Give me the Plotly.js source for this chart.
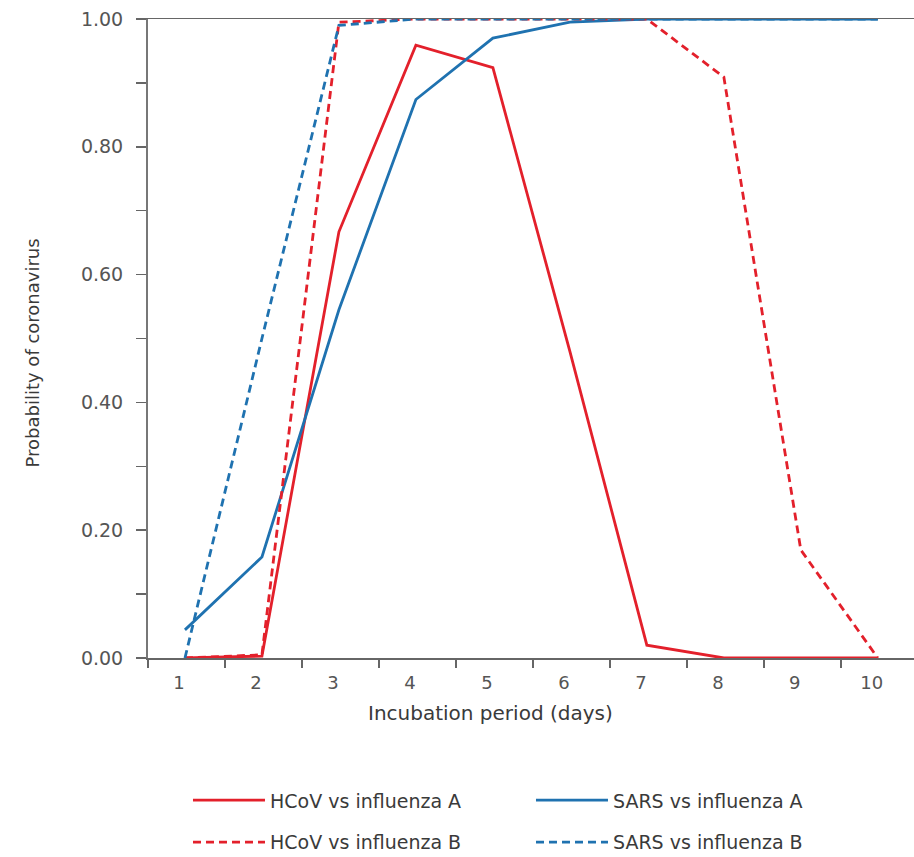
<!DOCTYPE html>
<html>
<head>
<meta charset="utf-8">
<script src="https://cdn.plot.ly/plotly-3.0.1.min.js"></script>
<style>html,body{margin:0;padding:0;background:#fff;}#chart{width:914px;height:857px;}</style>
</head>
<body>
<div id="chart"></div>
<script>
const days = [1, 2, 3, 4, 5, 6, 7, 8, 9, 10];
const dayLabels = ["1", "2", "3", "4", "5", "6", "7", "8", "9", "10"];
const hcovA = [0, 0.003, 0.667, 0.959, 0.924, 0.48, 0.02, 0, 0, 0];
const hcovB = [0, 0.005, 0.995, 1, 1, 1, 1, 0.909, 0.169, 0];
const sarsA = [0.044, 0.158, 0.545, 0.874, 0.970, 0.995, 1, 1, 1, 1];
const sarsB = [0, 0.5, 0.99, 1, 1, 1, 1, 1, 1, 1];
const yTicks = [0, 0.2, 0.4, 0.6, 0.8, 1.0];
const yTickLabels = ["0.00", "0.20", "0.40", "0.60", "0.80", "1.00"];

const RED = "#e3202b";
const BLUE = "#1f72b0";
const FONT = "DejaVu Sans";
const GRAY = "#555";
const TXT = "#3a3a3a";

const traces = [
  {x: days, y: hcovA, name: "HCoV vs influenza A", mode: "lines", line: {color: RED, width: 2.8}, legend: "legend"},
  {x: days, y: sarsA, name: "SARS vs influenza A", mode: "lines", line: {color: BLUE, width: 2.8}, legend: "legend"},
  {x: days, y: hcovB, name: "HCoV vs influenza B", mode: "lines", line: {color: RED, width: 2.8, dash: "8px,5px"}, legend: "legend2"},
  {x: days, y: sarsB, name: "SARS vs influenza B", mode: "lines", line: {color: BLUE, width: 2.8, dash: "8px,5px"}, legend: "legend2"}
];

const legendBase = {
  orientation: "h", xanchor: "left", yanchor: "top",
  entrywidth: 256, entrywidthmode: "pixels", itemwidth: 72,
  font: {family: FONT, size: 19, color: TXT}, bgcolor: "rgba(0,0,0,0)"
};

const layout = {
  width: 914, height: 857,
  margin: {l: 148, r: 0, t: 19, b: 199, autoexpand: false},
  paper_bgcolor: "#fff", plot_bgcolor: "#fff",
  font: {family: FONT, color: GRAY, size: 16},
  showlegend: true,
  legend: Object.assign({}, legendBase, {x: 0.0522, y: -0.193}),
  legend2: Object.assign({}, legendBase, {x: 0.0522, y: -0.2585}),
  xaxis: {
    range: [0.52, 10.47], showgrid: false, zeroline: false,
    showline: true, linecolor: "#666", linewidth: 1.5, mirror: true,
    tickmode: "array", tickvals: days, ticktext: dayLabels, ticks: "",
    ticklabelshift: -6, ticklabelstandoff: 8, tickfont: {family: FONT, size: 18, color: GRAY},
    minor: {tickmode: "linear", tick0: 0.52, dtick: 1, ticks: "outside", ticklen: 8, tickwidth: 1.5, tickcolor: "#666", showgrid: false}
  },
  yaxis: {
    range: [0, 1], showgrid: false, zeroline: false,
    showline: true, linecolor: "#777", linewidth: 2,
    tickmode: "array", tickvals: yTicks, ticktext: yTickLabels,
    ticks: "outside", ticklen: 10, tickwidth: 1.5, tickcolor: "#666",
    ticklabelstandoff: 9,
    tickfont: {family: FONT, size: 19, color: GRAY},
    minor: {tickmode: "linear", tick0: 0, dtick: 0.1, ticks: "outside", ticklen: 10, tickwidth: 1.5, tickcolor: "#666", showgrid: false}
  },
  annotations: [
    {text: "Probability of coronavirus", xref: "paper", yref: "paper", x: 0, y: 0.5, xshift: -116, yshift: -15,
     textangle: -90, showarrow: false, font: {family: FONT, size: 18, color: TXT}, xanchor: "center", yanchor: "middle"},
    {text: "Incubation period (days)", xref: "paper", yref: "paper", x: 0.4465, y: 0, yshift: -55,
     showarrow: false, font: {family: FONT, size: 20, color: TXT}, xanchor: "center", yanchor: "middle"}
  ]
};

Plotly.newPlot("chart", traces, layout, {displayModeBar: false, staticPlot: true});
</script>
</body>
</html>
